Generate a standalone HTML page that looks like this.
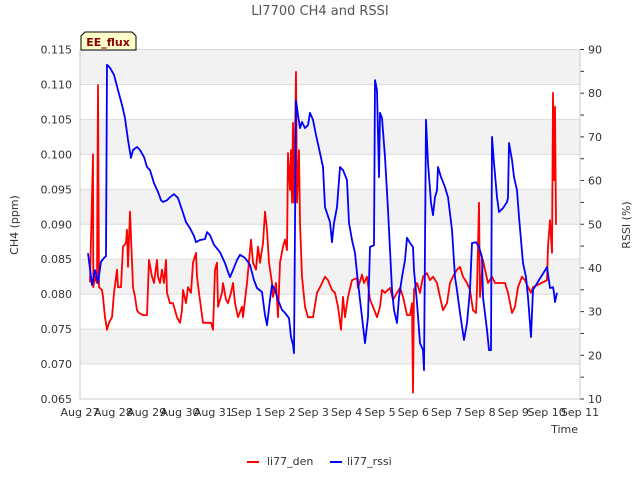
<!DOCTYPE html>
<html><head><meta charset="utf-8"><style>
body{margin:0;background:#fff;font-family:"Liberation Sans","DejaVu Sans",sans-serif}
svg text{font-family:"DejaVu Sans","Liberation Sans",sans-serif}
</style></head><body>
<svg id="chart" width="640" height="480" xmlns="http://www.w3.org/2000/svg">
<text x="320" y="15" text-anchor="middle" font-size="13" fill="#555">LI7700 CH4 and RSSI</text>
<g id="bands"></g><g id="grid"></g><g id="axes"></g><g id="series"></g>
<text transform="translate(18,225) rotate(-90)" text-anchor="middle" font-size="11" fill="#333">CH4 (ppm)</text>
<text transform="translate(630,225) rotate(-90)" text-anchor="middle" font-size="11" fill="#333">RSSI (%)</text>
<text x="578" y="433" text-anchor="end" font-size="11" fill="#333">Time</text>
<g>
<path d="M81,50 L81,36 L85,32 L132,32 L136,36 L136,50 Z" fill="#ffffcc" stroke="#000" stroke-width="1"/>
<text x="108" y="46" text-anchor="middle" font-size="11" font-weight="bold" fill="#8b0000">EE_flux</text></g>
<g><line x1="247" y1="462" x2="259" y2="462" stroke="#f00" stroke-width="2"/><text x="267" y="465" font-size="11" fill="#333">li77_den</text></g>
<g><line x1="330" y1="462" x2="342" y2="462" stroke="#00f" stroke-width="2"/><text x="347" y="465" font-size="11" fill="#333">li77_rssi</text></g>
</svg>
<script>
const xTickLabels=["Aug 27","Aug 28","Aug 29","Aug 30","Aug 31","Sep 1","Sep 2","Sep 3","Sep 4","Sep 5","Sep 6","Sep 7","Sep 8","Sep 9","Sep 10","Sep 11"];
const yTicks=[0.065,0.070,0.075,0.080,0.085,0.090,0.095,0.100,0.105,0.110,0.115];
const y2Ticks=[10,20,30,40,50,60,70,80,90];
const denTimes=[0.30,0.39,0.40,0.45,0.51,0.52,0.54,0.57,0.66,0.69,0.75,0.81,0.87,0.96,1.02,1.11,1.14,1.23,1.29,1.38,1.41,1.44,1.50,1.59,1.65,1.71,1.77,1.89,2.01,2.07,2.16,2.22,2.31,2.34,2.40,2.46,2.52,2.58,2.61,2.70,2.79,2.85,2.91,3.00,3.06,3.09,3.18,3.24,3.33,3.39,3.48,3.51,3.57,3.69,3.81,3.93,3.99,4.05,4.11,4.14,4.20,4.26,4.29,4.38,4.44,4.53,4.59,4.65,4.74,4.86,4.89,5.01,5.13,5.19,5.28,5.34,5.40,5.49,5.55,5.61,5.67,5.76,5.79,5.88,5.94,6.00,6.09,6.15,6.21,6.24,6.30,6.33,6.36,6.39,6.42,6.48,6.51,6.57,6.60,6.66,6.75,6.84,6.99,7.11,7.20,7.35,7.44,7.56,7.65,7.74,7.83,7.89,7.95,8.04,8.16,8.31,8.34,8.46,8.52,8.61,8.70,8.79,8.91,9.00,9.06,9.15,9.30,9.39,9.51,9.60,9.69,9.81,9.90,9.96,9.99,10.02,10.11,10.20,10.29,10.41,10.50,10.59,10.71,10.80,10.89,11.01,11.10,11.19,11.31,11.40,11.49,11.61,11.70,11.79,11.88,11.91,11.97,12.00,12.09,12.15,12.24,12.36,12.45,12.60,12.75,12.84,12.96,13.05,13.14,13.26,13.35,13.44,13.53,13.59,14.01,14.04,14.10,14.16,14.19,14.22,14.25,14.28];
const denValues=[0.0817,0.1000,0.0810,0.0825,0.0816,0.0916,0.1099,0.0810,0.0806,0.0796,0.0767,0.0749,0.0759,0.0767,0.0802,0.0835,0.0810,0.0810,0.0868,0.0873,0.0892,0.0839,0.0918,0.0810,0.0796,0.0777,0.0773,0.0770,0.0770,0.0849,0.0825,0.0816,0.0849,0.0825,0.0816,0.0835,0.0816,0.0849,0.0802,0.0787,0.0787,0.0777,0.0767,0.0759,0.0777,0.0806,0.0787,0.0810,0.0802,0.0845,0.0859,0.0825,0.0802,0.0759,0.0759,0.0759,0.0749,0.0835,0.0845,0.0782,0.0792,0.0802,0.0816,0.0792,0.0787,0.0802,0.0816,0.0787,0.0767,0.0782,0.0767,0.0816,0.0878,0.0845,0.0835,0.0868,0.0845,0.0873,0.0918,0.0892,0.0845,0.0816,0.0796,0.0816,0.0767,0.0845,0.0868,0.0878,0.0863,0.1002,0.0949,0.1006,0.0931,0.1045,0.0931,0.1118,0.0931,0.1006,0.0902,0.0825,0.0782,0.0767,0.0767,0.0802,0.0810,0.0825,0.0820,0.0806,0.0802,0.0782,0.0749,0.0796,0.0767,0.0796,0.0820,0.0823,0.0809,0.0828,0.0816,0.0825,0.0792,0.0782,0.0767,0.0782,0.0806,0.0802,0.0809,0.0792,0.0802,0.0809,0.0796,0.0770,0.0770,0.0787,0.0659,0.0806,0.0816,0.0802,0.0825,0.0830,0.0820,0.0825,0.0816,0.0796,0.0777,0.0787,0.0816,0.0825,0.0835,0.0839,0.0825,0.0816,0.0806,0.0777,0.0773,0.0806,0.0931,0.0796,0.0849,0.0835,0.0816,0.0825,0.0816,0.0816,0.0816,0.0802,0.0773,0.0782,0.0810,0.0825,0.0820,0.0810,0.0802,0.0810,0.0820,0.0868,0.0906,0.0859,0.1088,0.0963,0.1068,0.0899];
const rssiTimes=[0.24,0.36,0.45,0.54,0.63,0.72,0.78,0.81,0.90,1.02,1.14,1.26,1.35,1.44,1.50,1.53,1.59,1.71,1.80,1.92,2.01,2.10,2.22,2.34,2.43,2.49,2.61,2.70,2.82,2.94,3.06,3.18,3.30,3.42,3.48,3.60,3.75,3.81,3.90,4.02,4.20,4.35,4.44,4.50,4.59,4.71,4.80,4.95,5.10,5.22,5.31,5.46,5.55,5.61,5.70,5.76,5.85,5.94,6.06,6.15,6.27,6.33,6.39,6.42,6.48,6.54,6.60,6.66,6.75,6.84,6.90,6.99,7.08,7.20,7.29,7.35,7.50,7.56,7.62,7.71,7.80,7.89,8.01,8.07,8.16,8.25,8.31,8.40,8.55,8.64,8.70,8.82,8.85,8.91,8.97,9.00,9.06,9.15,9.24,9.36,9.42,9.51,9.57,9.66,9.75,9.81,9.90,9.99,10.02,10.11,10.20,10.29,10.32,10.38,10.44,10.53,10.59,10.65,10.71,10.74,10.83,10.95,11.04,11.16,11.25,11.31,11.40,11.52,11.61,11.70,11.76,11.88,11.97,12.06,12.09,12.21,12.27,12.33,12.36,12.42,12.51,12.57,12.69,12.81,12.84,12.87,12.96,13.02,13.11,13.17,13.23,13.29,13.38,13.44,13.53,13.59,14.01,14.10,14.19,14.22,14.25,14.31];
const rssiValues=[43.4,36.1,39.5,36.6,41.4,42.3,42.7,86.5,85.8,84.2,80.7,77.3,74.3,69.3,66.5,65.2,67.0,67.7,67.0,65.4,63.1,62.4,59.4,57.4,55.5,55.1,55.5,56.2,56.9,56.0,53.3,50.5,49.1,47.3,45.9,46.4,46.6,48.2,47.5,45.3,43.6,41.1,39.1,37.9,39.5,41.8,43.0,42.3,40.7,37.2,35.4,34.5,29.2,26.9,32.7,36.1,35.0,32.7,30.4,29.7,28.5,24.2,22.4,20.5,78.4,75.0,72.0,73.4,72.0,72.7,75.5,73.9,70.4,66.3,63.1,53.9,50.5,45.9,50.3,53.9,63.1,62.4,60.1,50.3,46.4,43.4,38.8,32.7,22.8,28.8,44.8,45.2,83.0,80.7,60.8,75.5,74.3,65.4,53.3,35.0,30.4,27.4,33.3,37.9,41.8,46.9,45.7,44.8,39.5,32.0,22.8,21.2,16.6,73.9,64.0,54.9,52.1,56.2,57.8,63.1,60.8,58.5,56.2,48.7,37.9,34.9,29.7,23.5,27.4,35.0,45.7,45.9,44.8,42.5,33.3,25.8,21.2,21.2,70.0,64.0,56.2,52.8,53.7,55.1,56.0,68.6,64.7,60.8,57.8,51.7,46.4,41.1,37.9,33.3,24.2,35.0,40.2,35.4,35.6,34.3,32.2,34.3];

const NS="http://www.w3.org/2000/svg";
const L=80,R=580,T=49.5,B=399;
const xS=d=>L+d*(R-L)/15;
const yS=v=>B-(v-0.065)/(0.115-0.065)*(B-T);
const y2S=v=>B-(v-10)/(90-10)*(B-T);
function mk(tag,attrs,parent){const e=document.createElementNS(NS,tag);for(const k in attrs)e.setAttribute(k,attrs[k]);parent.appendChild(e);return e;}
const bands=document.getElementById('bands'),grid=document.getElementById('grid'),axes=document.getElementById('axes'),series=document.getElementById('series');
for(let i=1;i<yTicks.length;i+=2){
  const r=mk('rect',{x:L,y:yS(yTicks[i+1]!==undefined?yTicks[i+1]:yTicks[i]),width:R-L,height:yS(yTicks[i])-yS(yTicks[i+1]!==undefined?yTicks[i+1]:yTicks[i]),fill:'#f2f2f2'},bands);
  
  
}
yTicks.forEach(v=>{
  const l=mk('line',{x1:L,x2:R,y1:yS(v),y2:yS(v),stroke:'#dcdcdc','stroke-width':1},grid);
  
  
  const t=mk('text',{x:L-8,y:yS(v)+4,'text-anchor':'end','font-size':11,fill:'#333'},axes);
  t.textContent=v.toFixed(3);
  
  
});
y2Ticks.forEach(v=>{
  const t=mk('text',{x:R+8,y:y2S(v)+4,'font-size':11,fill:'#333'},axes);
  t.textContent=v;
  
  
  mk('line',{x1:R,x2:R+4,y1:y2S(v),y2:y2S(v),stroke:'#333'},axes);
  if(v<90) mk('line',{x1:R,x2:R+4,y1:y2S(v+5),y2:y2S(v+5),stroke:'#333'},axes);
});
xTickLabels.forEach((s,i)=>{
  const t=mk('text',{x:xS(i),y:416,'text-anchor':'middle','font-size':11,fill:'#333'},axes);
  t.textContent=s;
  
  
});
mk('line',{x1:L,x2:L,y1:T,y2:B,stroke:'#ccc'},axes);
mk('line',{x1:R,x2:R,y1:T,y2:B,stroke:'#ccc'},axes);
mk('line',{x1:L,x2:R,y1:B,y2:B,stroke:'#ccc'},axes);
const den=mk('polyline',{points:denTimes.map((d,i)=>xS(d).toFixed(1)+','+yS(denValues[i]).toFixed(1)).join(' '),fill:'none',stroke:'#f00','stroke-width':1.8,'stroke-linejoin':'round'},series);


const rs=mk('polyline',{points:rssiTimes.map((d,i)=>xS(d).toFixed(1)+','+y2S(rssiValues[i]).toFixed(1)).join(' '),fill:'none',stroke:'#00f','stroke-width':1.8,'stroke-linejoin':'round'},series);


</script>
</body></html>
